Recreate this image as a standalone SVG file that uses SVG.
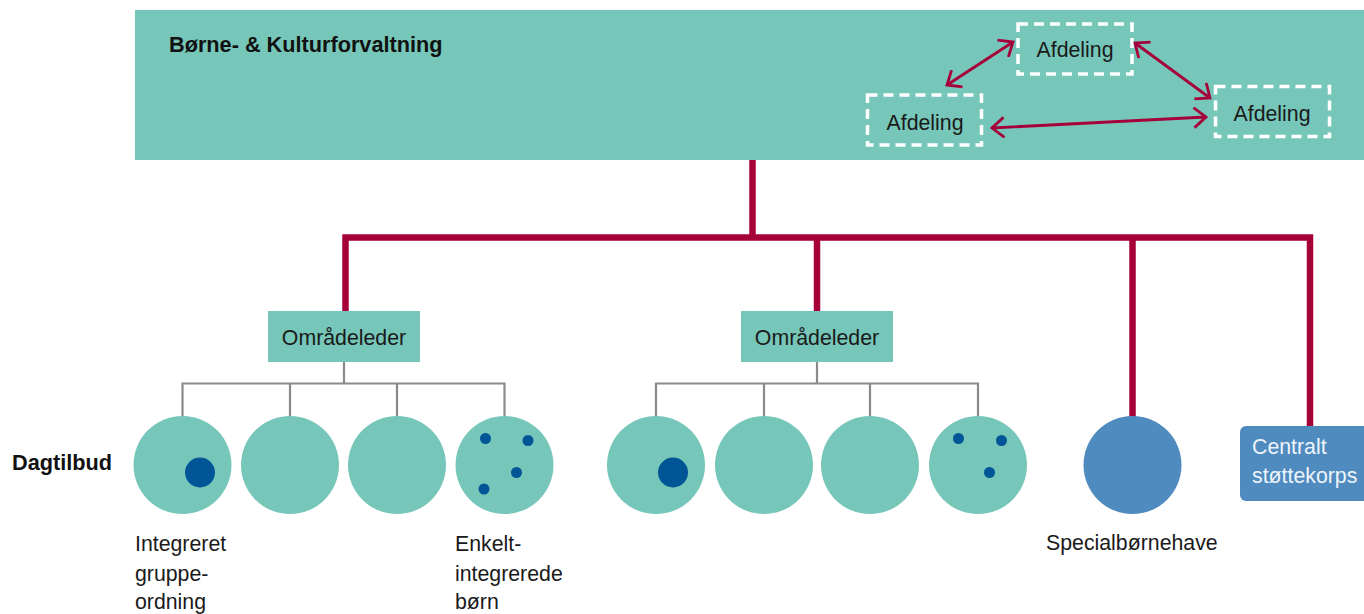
<svg xmlns="http://www.w3.org/2000/svg" width="1364" height="614" viewBox="0 0 1364 614">
  <style>
    .lbl { font-family: "Liberation Sans", Arial, sans-serif; font-size: 21.3px; fill: #1a1a1a; }
    .bold { font-family: "Liberation Sans", Arial, sans-serif; font-size: 21.7px; font-weight: bold; fill: #111; }
    .teal { fill: #76c7b9; }
    .dot { fill: #005596; }
    .red { stroke: #a6003a; stroke-width: 6.5; fill: none; }
    .gray { stroke: #8a8a8c; stroke-width: 2.2; fill: none; }
    .dash { fill: none; stroke: #ffffff; stroke-width: 3.5; stroke-dasharray: 10 6; }
    .rel { stroke: #a6003a; stroke-width: 2.8; fill: none; marker-start: url(#chev); marker-end: url(#chev); }
  </style>
  <defs>
    <marker id="chev" viewBox="0 0 18 22" refX="15" refY="11" markerWidth="18" markerHeight="22" markerUnits="userSpaceOnUse" orient="auto-start-reverse">
      <path d="M3,1 L15,11 L3,21" fill="none" stroke="#a6003a" stroke-width="2.8"/>
    </marker>
  </defs>

  <!-- administration banner -->
  <g id="forvaltning">
    <rect x="135" y="10" width="1229" height="150" class="teal"/>
    <text x="169" y="52" class="bold">Børne- &amp; Kulturforvaltning</text>
  </g>

  <g id="afdeling-top">
    <rect x="1018" y="24" width="114" height="50" class="dash"/>
    <text x="1075" y="57" class="lbl" text-anchor="middle">Afdeling</text>
  </g>
  <g id="afdeling-left">
    <rect x="867.5" y="95" width="114" height="50" class="dash"/>
    <text x="925" y="130" class="lbl" text-anchor="middle">Afdeling</text>
  </g>
  <g id="afdeling-right">
    <rect x="1215.5" y="86.5" width="114" height="50" class="dash"/>
    <text x="1272" y="121" class="lbl" text-anchor="middle">Afdeling</text>
  </g>

  <!-- connectors -->
  <g id="connectors">
    <line x1="947" y1="85" x2="1013" y2="42" class="rel"/>
    <line x1="1135" y1="43" x2="1210" y2="98" class="rel"/>
    <line x1="992" y1="128" x2="1206" y2="117" class="rel"/>

    <path class="red" d="M752.5,160 V237.5"/>
    <path class="red" d="M345.5,312 V237.5 H1310 V427"/>
    <path class="red" d="M817,237.5 V312"/>
    <path class="red" d="M1132.5,237.5 V417"/>

    <path class="gray" d="M344,362 V383.5 M182.5,416 V383.5 H504.5 V416 M290,383.5 V416 M397,383.5 V416"/>
    <path class="gray" d="M817,362 V383.5 M656,416 V383.5 H978 V416 M764,383.5 V416 M870,383.5 V416"/>
  </g>

  <!-- area leaders -->
  <g id="omraadeleder-1">
    <rect x="268" y="311" width="152" height="51" class="teal"/>
    <text x="344" y="345" class="lbl" text-anchor="middle">Områdeleder</text>
  </g>
  <g id="omraadeleder-2">
    <rect x="741" y="311" width="152" height="51" class="teal"/>
    <text x="817" y="345" class="lbl" text-anchor="middle">Områdeleder</text>
  </g>

  <!-- day care units -->
  <g id="dagtilbud-label">
    <text x="12" y="470" class="bold">Dagtilbud</text>
  </g>

  <g id="tilbud-1-1">
    <circle cx="182.5" cy="465" r="49" class="teal"/>
    <circle cx="200" cy="472.5" r="15" class="dot"/>
  </g>
  <g id="tilbud-1-2"><circle cx="290" cy="465" r="49" class="teal"/></g>
  <g id="tilbud-1-3"><circle cx="397" cy="465" r="49" class="teal"/></g>
  <g id="tilbud-1-4">
    <circle cx="504.5" cy="465" r="49" class="teal"/>
    <circle cx="485.5" cy="438.5" r="5.5" class="dot"/>
    <circle cx="528" cy="440.5" r="5.5" class="dot"/>
    <circle cx="516.5" cy="472.5" r="5.5" class="dot"/>
    <circle cx="484" cy="489" r="5.5" class="dot"/>
  </g>

  <g id="tilbud-2-1">
    <circle cx="656" cy="465" r="49" class="teal"/>
    <circle cx="673" cy="472.5" r="15" class="dot"/>
  </g>
  <g id="tilbud-2-2"><circle cx="764" cy="465" r="49" class="teal"/></g>
  <g id="tilbud-2-3"><circle cx="870" cy="465" r="49" class="teal"/></g>
  <g id="tilbud-2-4">
    <circle cx="978" cy="465" r="49" class="teal"/>
    <circle cx="958.5" cy="438.5" r="5.5" class="dot"/>
    <circle cx="1001.5" cy="440.5" r="5.5" class="dot"/>
    <circle cx="989.5" cy="472.5" r="5.5" class="dot"/>
  </g>

  <g id="specialboernehave">
    <circle cx="1132.5" cy="465" r="49" fill="#4f8bbf"/>
    <text x="1046" y="550" class="lbl">Specialbørnehave</text>
  </g>

  <g id="centralt-stoettekorps">
    <rect x="1240" y="426" width="140" height="75" rx="6" fill="#4f8bbf"/>
    <text x="1252" y="454" class="lbl" style="fill:#eef4fa">Centralt</text>
    <text x="1252" y="483" class="lbl" style="fill:#eef4fa">støttekorps</text>
  </g>

  <!-- legend labels -->
  <g id="label-integreret">
    <text class="lbl" x="135" y="551">Integreret</text>
    <text class="lbl" x="135" y="580.5">gruppe-</text>
    <text class="lbl" x="135" y="609">ordning</text>
  </g>
  <g id="label-enkelt">
    <text class="lbl" x="455" y="551">Enkelt-</text>
    <text class="lbl" x="455" y="580.5">integrerede</text>
    <text class="lbl" x="455" y="609">børn</text>
  </g>
</svg>
